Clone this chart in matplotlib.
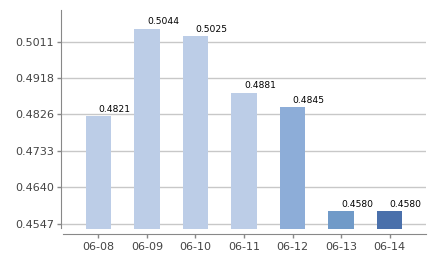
import matplotlib
matplotlib.use("Agg")
import matplotlib.pyplot as plt
import numpy as np

# data
dates = ["06-08", "06-09", "06-10", "06-11", "06-12", "06-13", "06-14"]
values = [0.4821, 0.5044, 0.5025, 0.4881, 0.4845, 0.4580, 0.4580]
bar_colors = ["#bccde7", "#bccde7", "#bccde7", "#bccde7", "#8dadd8", "#709ac8", "#4a70ab"]
ytick_vals = [0.4547, 0.4640, 0.4733, 0.4826, 0.4918, 0.5011]
ytick_labels = ["0.4547", "0.4640", "0.4733", "0.4826", "0.4918", "0.5011"]

base = 0.45343  # bars start a bit below the lowest tick

fig = plt.figure(figsize=(4.38, 2.6), dpi=100)
ax = fig.add_axes([61 / 438, 1 - 234 / 260, (426 - 61) / 438, (234 - 10) / 260])

x = np.arange(len(dates))
heights = [v - base for v in values]
ax.bar(x, heights, bottom=base, width=0.52, color=bar_colors, zorder=3)

for xi, v in zip(x, values):
    ax.text(xi, v + 0.0006, "%.4f" % v, ha="left", va="bottom",
            fontsize=6.6, color="black", zorder=4)

ax.set_xlim(-0.77, 6.75)
ax.set_ylim(0.45215, 0.50917)

ax.set_yticks(ytick_vals)
ax.set_yticklabels(ytick_labels)
ax.set_xticks(x)
ax.set_xticklabels(dates)

ax.grid(axis="y", color="#c8c8c8", linewidth=1, zorder=0)
ax.tick_params(axis="both", labelsize=8, labelcolor="#444444", color="#888888",
               length=3, width=1)
ax.tick_params(axis="y", pad=2)
ax.tick_params(axis="x", pad=3)

for s in ["top", "right"]:
    ax.spines[s].set_visible(False)
ax.spines["left"].set_color("#888888")
ax.spines["bottom"].set_color("#888888")
ax.spines["left"].set_bounds(0.4537, 0.50917)
ax.spines["bottom"].set_bounds(-0.73, 6.75)

fig.savefig("out.png", dpi=100)
